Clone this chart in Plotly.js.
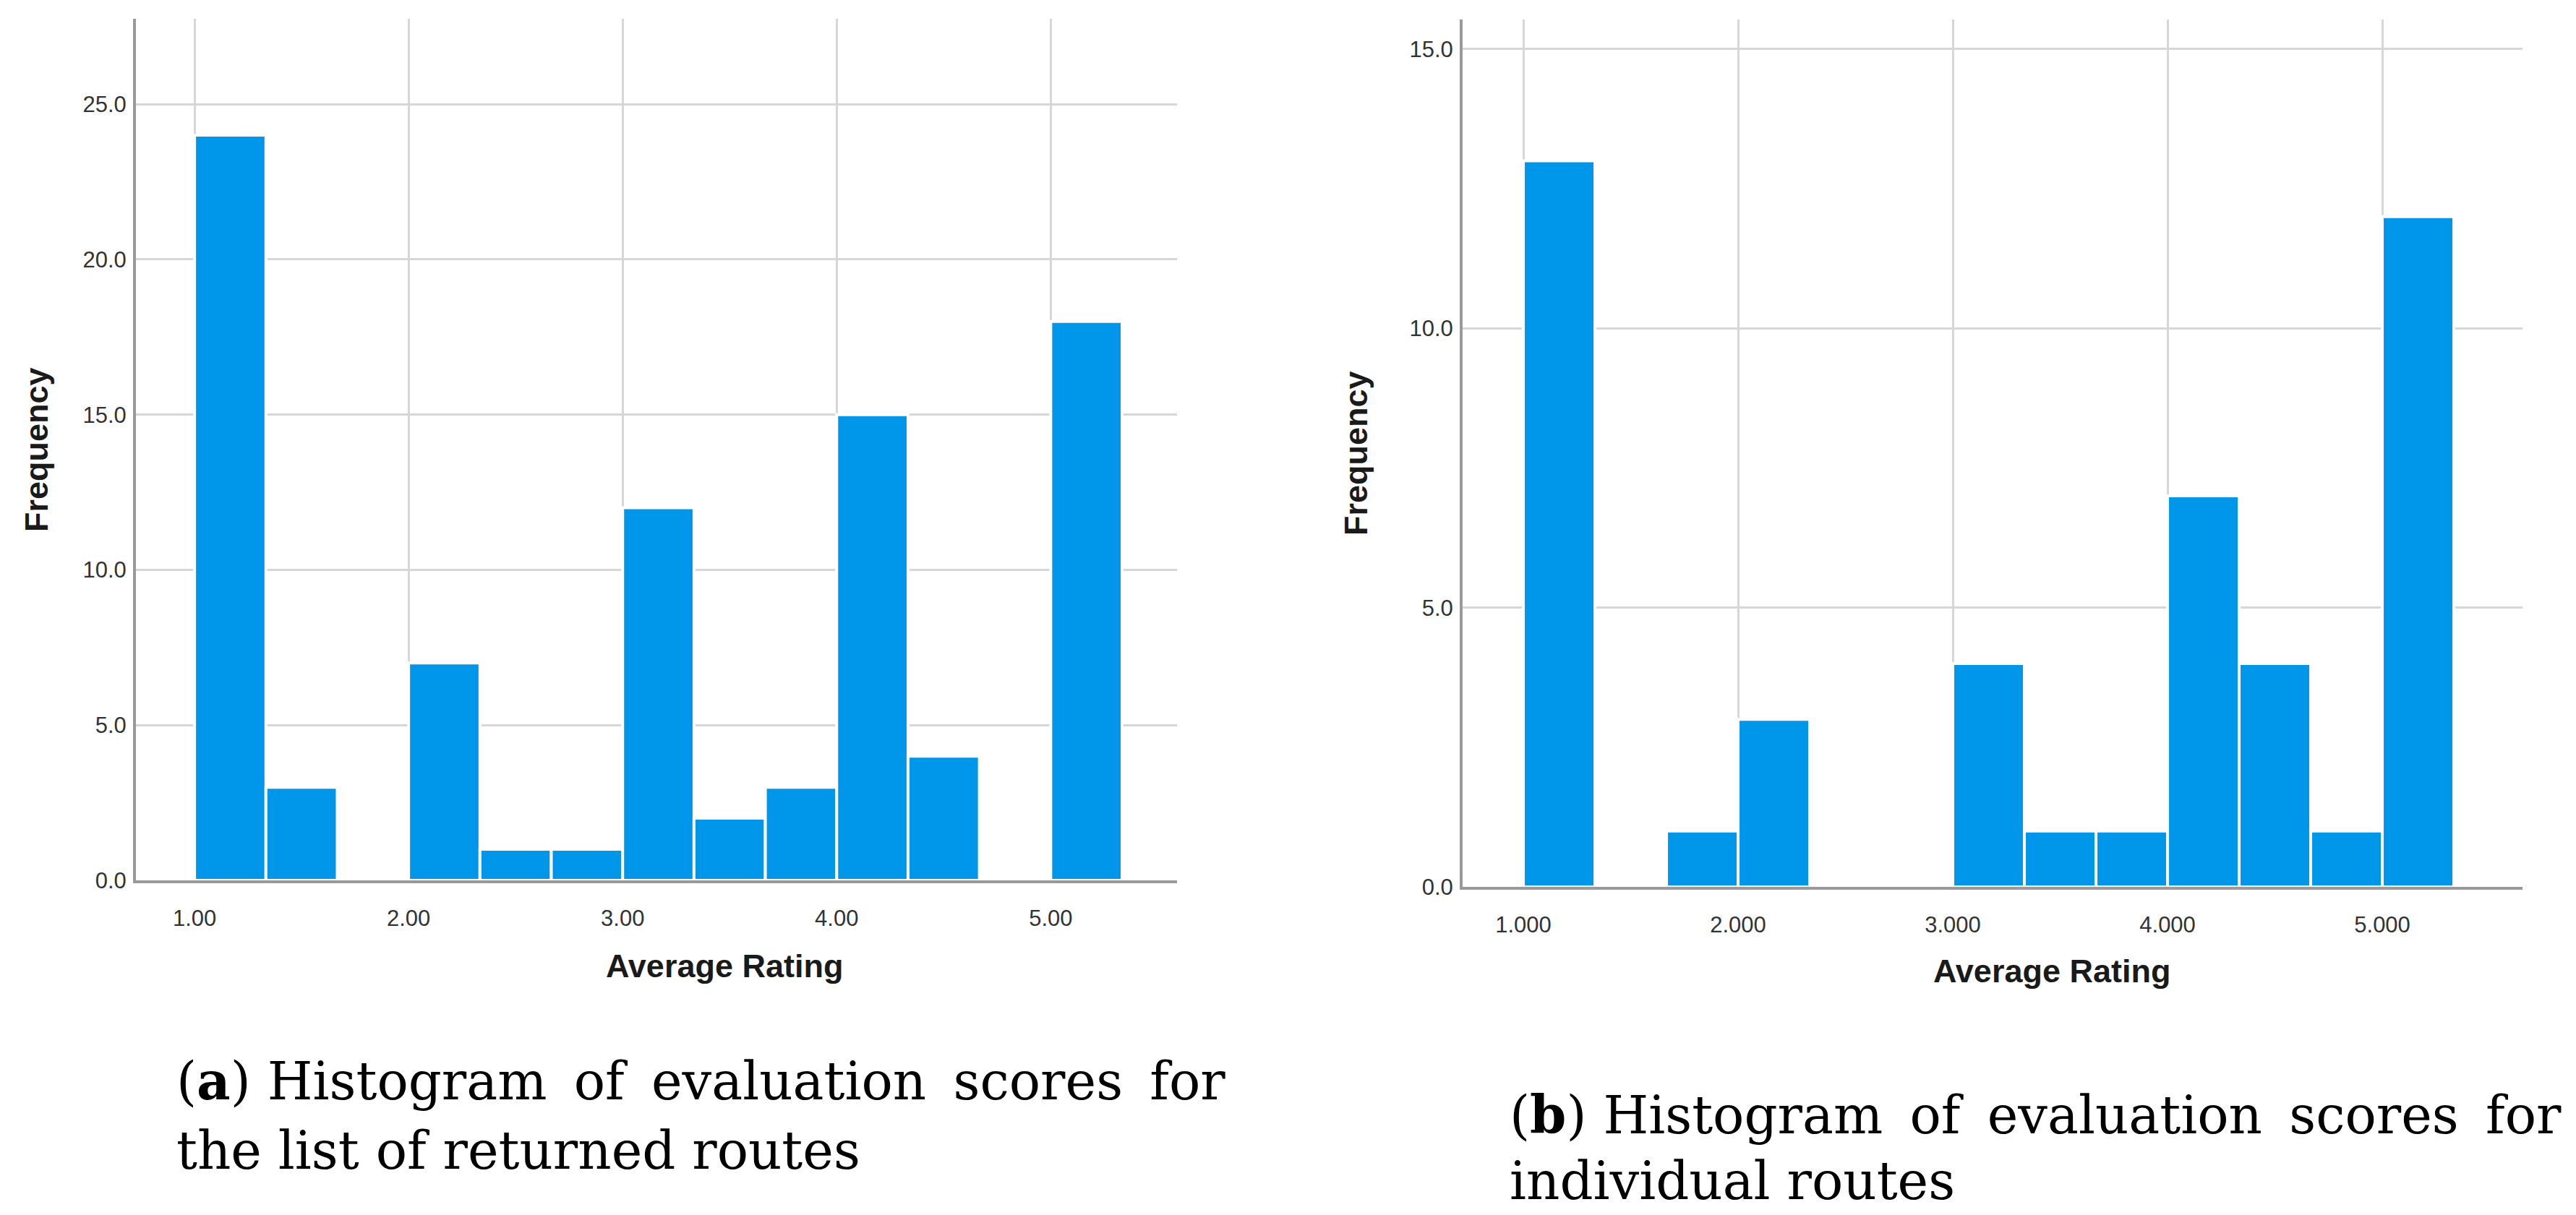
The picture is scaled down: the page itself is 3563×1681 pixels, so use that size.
<!DOCTYPE html>
<html>
<head>
<meta charset="utf-8">
<script src="https://cdn.plot.ly/plotly-3.0.1.min.js"></script>
<style>
  html, body { margin: 0; padding: 0; background: #ffffff; }
  #chart { width: 3563px; height: 1681px; }
</style>
</head>
<body>
<div id="chart"></div>
<script>
// ---- data ----
const binLowerEdges = [1.0, 1.3333, 1.6667, 2.0, 2.3333, 2.6667, 3.0, 3.3333, 3.6667, 4.0, 4.3333, 4.6667, 5.0];
const binWidth = 0.3333;
const countsReturnedList = [24, 3, 0, 7, 1, 1, 12, 2, 3, 15, 4, 0, 18];
const countsIndividual = [13, 0, 1, 3, 0, 0, 4, 1, 1, 7, 4, 1, 12];
const xTickValues = [1, 2, 3, 4, 5];
const xTickLabelsA = ['1.00', '2.00', '3.00', '4.00', '5.00'];
const xTickLabelsB = ['1.000', '2.000', '3.000', '4.000', '5.000'];
const yTickValuesA = [0, 5, 10, 15, 20, 25];
const yTickLabelsA = ['0.0', '5.0', '10.0', '15.0', '20.0', '25.0'];
const yTickValuesB = [0, 5, 10, 15];
const yTickLabelsB = ['0.0', '5.0', '10.0', '15.0'];
const xAxisTitle = 'Average Rating';
const yAxisTitle = 'Frequency';
const captionA = ['(<b>a</b>) Histogram \u2009of \u2009evaluation \u2009scores \u2009for', 'the list of returned routes'];
const captionB = ['(<b>b</b>) Histogram \u2009of \u2009evaluation \u2009scores \u2009for', 'individual routes'];

// ---- layout helpers ----
const W = 3563, H = 1681;
const px = v => v / W;
const py = v => 1 - v / H;

const barColor = '#0096ea';
const gridColor = '#d7d7d7';
const lineColor = '#9a9a9a';
const tickFont = { family: 'Liberation Sans, Arial, sans-serif', size: 31, color: '#333333' };

function barTrace(counts, xa, ya) {
  return {
    type: 'bar',
    x: binLowerEdges,
    y: counts,
    width: binWidth,
    offset: 0,
    xaxis: xa,
    yaxis: ya,
    marker: { color: barColor, line: { color: '#ffffff', width: 4 } },
    hoverinfo: 'x+y',
    showlegend: false
  };
}

function xAxis(domain, range, labels, anchor) {
  return {
    domain: domain, range: range, anchor: anchor,
    tickmode: 'array', tickvals: xTickValues, ticktext: labels,
    ticks: '', showline: true, linecolor: lineColor, linewidth: 4,
    showgrid: true, gridcolor: gridColor, gridwidth: 3,
    zeroline: false, tickfont: tickFont, ticklabelstandoff: 22,
    automargin: false, fixedrange: true
  };
}
function yAxis(domain, range, vals, labels, anchor) {
  return {
    domain: domain, range: range, anchor: anchor,
    tickmode: 'array', tickvals: vals, ticktext: labels,
    ticks: '', showline: true, linecolor: lineColor, linewidth: 4,
    showgrid: true, gridcolor: gridColor, gridwidth: 3,
    zeroline: false, tickfont: tickFont, ticklabelstandoff: 3,
    automargin: false, fixedrange: true
  };
}

const titleFont = { family: 'Liberation Sans, Arial, sans-serif', size: 45, color: '#1a1a1a' };
const capFont = { family: 'DejaVu Serif, serif', size: 72, color: '#000000' };

function ann(text, x, y, opts) {
  return Object.assign({
    text: text, x: x, y: y, xref: 'paper', yref: 'paper',
    showarrow: false, xanchor: 'center', yanchor: 'middle'
  }, opts || {});
}

const annotations = [
  ann('<b>' + xAxisTitle + '</b>', px(1002), py(1336), { font: titleFont }),
  ann('<b>' + yAxisTitle + '</b>', px(50), py(622), { font: titleFont, textangle: -90 }),
  ann('<b>' + xAxisTitle + '</b>', px(2838), py(1343), { font: titleFont }),
  ann('<b>' + yAxisTitle + '</b>', px(1875), py(627), { font: titleFont, textangle: -90 }),
  ann(captionA[0], px(242), py(1495), { font: capFont, xanchor: 'left' }),
  ann(captionA[1], px(242), py(1592), { font: capFont, xanchor: 'left' }),
  ann(captionB[0], px(2086), py(1542), { font: capFont, xanchor: 'left' }),
  ann(captionB[1], px(2086), py(1634), { font: capFont, xanchor: 'left' })
];

const layout = {
  width: W, height: H,
  margin: { l: 0, r: 0, t: 0, b: 0, pad: 0 },
  paper_bgcolor: '#ffffff', plot_bgcolor: '#ffffff',
  bargap: 0,
  xaxis: xAxis([px(188), px(1628)], [0.726, 5.59], xTickLabelsA, 'y'),
  yaxis: yAxis([py(1218), py(26)], [0, 27.75], yTickValuesA, yTickLabelsA, 'x'),
  xaxis2: xAxis([px(2023), px(3489)], [0.717, 5.653], xTickLabelsB, 'y2'),
  yaxis2: yAxis([py(1227), py(27)], [0, 15.53], yTickValuesB, yTickLabelsB, 'x2'),
  annotations: annotations
};

Plotly.newPlot('chart', [
  barTrace(countsReturnedList, 'x', 'y'),
  barTrace(countsIndividual, 'x2', 'y2')
], layout, { staticPlot: true, displayModeBar: false });
</script>
</body>
</html>
